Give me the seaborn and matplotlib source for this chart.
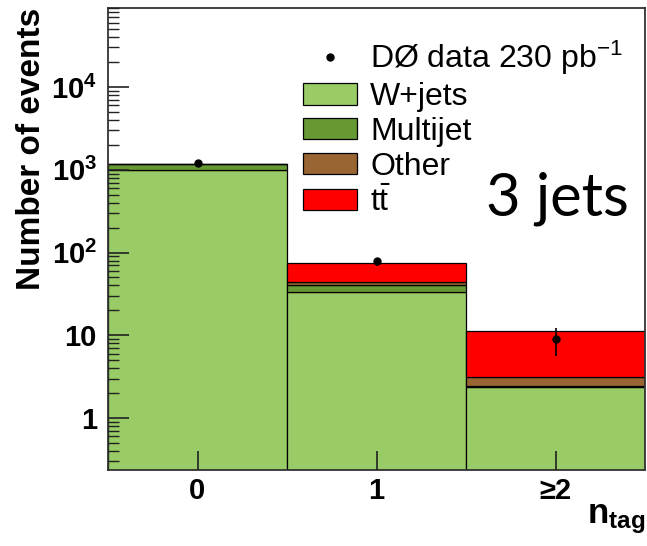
import numpy as np
import pandas as pd
import seaborn as sns
import matplotlib
matplotlib.use("Agg")
import matplotlib.pyplot as plt
from matplotlib.patches import Patch
from matplotlib.lines import Line2D

# ---- data ----
ntag = [0, 1, 2]
ntag_labels = ["0", "1", "≥2"]
wjets = [990, 33, 2.35]
multijet = [175, 8, 0.08]
other = [10, 3.5, 0.7]
ttbar = [5, 31, 8.0]
data_counts = [1210, 78, 9]
data_err = [35, 9, 3.3]

processes = ["W+jets", "Multijet", "Other", "tt"]
colors = {"W+jets": "#99cc66", "Multijet": "#669933", "Other": "#996633", "tt": "#ff0000"}
legend_labels = {"W+jets": "W+jets", "Multijet": "Multijet", "Other": "Other",
                 "tt": r"$\mathrm{t\bar{t}}$"}

rows = []
for p, vals in zip(processes, [wjets, multijet, other, ttbar]):
    for x, v in zip(ntag, vals):
        rows.append({"ntag": x, "process": p, "count": v})
df = pd.DataFrame(rows)

sns.set_style("ticks")
plt.rcParams["font.family"] = ["Liberation Sans", "DejaVu Sans"]
plt.rcParams["mathtext.fontset"] = "custom"
plt.rcParams["mathtext.rm"] = "Liberation Sans"
plt.rcParams["mathtext.it"] = "Liberation Sans:italic"
plt.rcParams["mathtext.bf"] = "Liberation Sans:bold"
for k in ["text.color", "axes.labelcolor", "xtick.color", "ytick.color"]:
    plt.rcParams[k] = "black"

fig = plt.figure(figsize=(6.47, 5.46), dpi=100)
ax = fig.add_axes([108 / 647, 76 / 546, (645 - 108) / 647, (470 - 8) / 546])

sns.histplot(data=df, x="ntag", weights="count", hue="process",
             hue_order=processes[::-1], multiple="stack",
             bins=[-0.5, 0.5, 1.5, 2.5], palette=colors, alpha=1,
             edgecolor="black", linewidth=0.9, legend=False, ax=ax)

ax.errorbar(ntag, data_counts, yerr=data_err, fmt="o", color="black",
            ms=5, lw=1.2, capsize=0, zorder=5)

ax.set_axisbelow(False)
ax.set_yscale("log")
ax.set_ylim(0.236, 9.0e4)
ax.set_xlim(-0.5, 2.5)

ax.set_yticks([1, 10, 100, 1000, 10000])
ax.set_yticklabels(["1", "10", r"$\mathbf{10^{2}}$", r"$\mathbf{10^{3}}$", r"$\mathbf{10^{4}}$"],
                   fontsize=21, fontweight="bold")
ax.set_xticks(ntag)
ax.set_xticklabels(ntag_labels, fontsize=21, fontweight="bold")
ax.tick_params(axis="y", which="major", direction="in", length=15, width=1.2, pad=8,
               color="#222222")
ax.tick_params(axis="y", which="minor", direction="in", length=8, width=1.0,
               color="#222222")
ax.tick_params(axis="x", which="major", direction="in", length=14, width=1.2, pad=5,
               color="#222222")
ax.tick_params(axis="x", which="minor", bottom=False)
for s in ax.spines.values():
    s.set_linewidth(1.3)
    s.set_color("#333333")
    s.set_visible(True)

ax.set_ylabel("Number of events", fontsize=24, fontweight="bold", loc="top", labelpad=3)
ax.set_xlabel(r"$\mathbf{n}_{\mathbf{tag}}$", fontsize=25, loc="right", labelpad=-2)

handles = [Line2D([], [], marker="o", ls="none", color="black", ms=5)]
labels = [r"DØ data 230 pb$^{\mathregular{-1}}$"]
for p in processes:
    handles.append(Patch(facecolor=colors[p], edgecolor="black", linewidth=0.9))
    labels.append(legend_labels[p])
leg = ax.legend(handles, labels, loc="upper left",
                bbox_to_anchor=(303 / 647, (546 - 39) / 546),
                bbox_transform=fig.transFigure, frameon=False, fontsize=23,
                handlelength=1.7, handleheight=0.65, handletextpad=0.4,
                labelspacing=0.15, borderpad=0, borderaxespad=0)

fig.text(486 / 647, (546 - 215) / 546, "3 jets", fontsize=43, family="Lato",
         fontweight="normal", va="baseline", ha="left")

fig.savefig("out.png", dpi=100)
